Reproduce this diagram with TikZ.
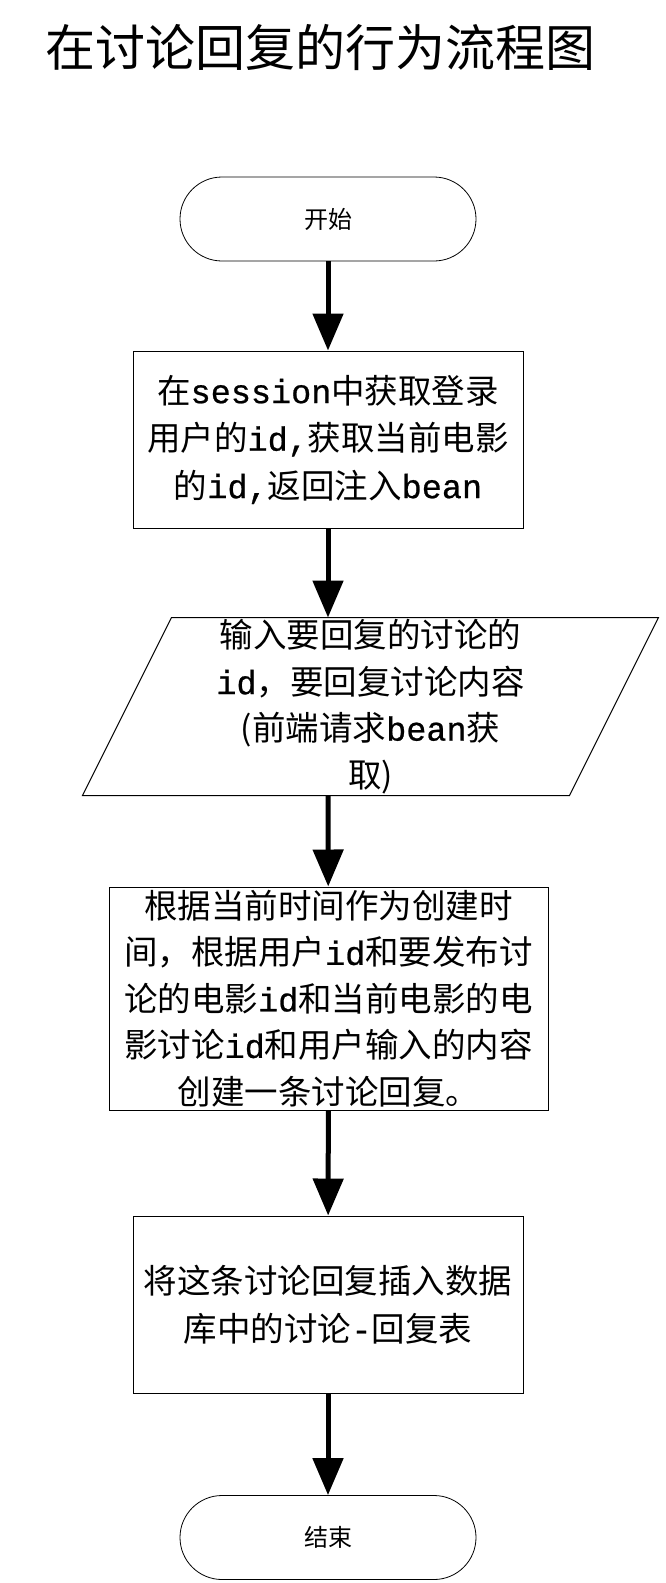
\documentclass[tikz,border=0pt]{standalone}
\usepackage{fontspec}
\setmainfont{Noto Sans CJK SC}
\setmonofont{Liberation Mono}[FakeBold=0.7]
\usetikzlibrary{arrows.meta}
\begin{document}
\begin{tikzpicture}[x=1pt,y=-1pt,
    terminal/.style={draw,line width=0.8pt,rounded corners=42pt,minimum width=296pt,minimum height=84pt,font=\fontsize{24}{28}\selectfont},
    process/.style={draw,line width=1pt,align=center,inner sep=0pt,font=\fontsize{33.5}{47.5}\selectfont},
    flow/.style={line width=5pt,-{Triangle[length=37pt,width=30pt]}}]
            \useasboundingbox (0,0) rectangle (666,1583);
            \node[anchor=west,inner sep=0pt,font=\fontsize{50}{58}\selectfont] (title) at (45,47) {在讨论回复的行为流程图};
            \node[terminal] (start) at (328,219) {开始};
            \node[process,minimum width=390pt,minimum height=177pt] (getid) at (328,439.5)
                {在\texttt{session}中获取登录\\用户的\texttt{id,}获取当前电影\\的\texttt{id,}返回注入\texttt{bean}};
            \node[process,minimum width=575pt,minimum height=177pt,draw=none,font=\fontsize{33.5}{46.5}\selectfont] (input) at (370.5,706.5)
                {输入要回复的讨论的\\\texttt{id}，要回复讨论内容\\(前端请求\texttt{bean}获\\取)};
            \draw[line width=1pt] ([xshift=89pt]input.north west) -- (input.north east)
                -- ([xshift=-89pt]input.south east) -- (input.south west) -- cycle;
            \node[process,minimum width=439pt,minimum height=223pt,font=\fontsize{33.5}{46.5}\selectfont] (create) at (328.5,998.5)
                {根据当前时间作为创建时\\间，根据用户\texttt{id}和要发布讨\\论的电影\texttt{id}和当前电影的电\\影讨论\texttt{id}和用户输入的内容\\创建一条讨论回复。};
            \node[process,minimum width=390pt,minimum height=177pt] (insert) at (328,1304.5)
                {将这条讨论回复插入数据\\库中的讨论\texttt{-}回复表};
            \node[terminal] (end) at (328,1537.5) {结束};
            \draw[flow] (start) -- (getid);
            \draw[flow] (getid) -- (getid |- input.north);
            \draw[flow] (getid |- input.south) -- (create);
            \draw[flow] (create) -- (insert);
            \draw[flow] (insert) -- (end);
        \end{tikzpicture}
\end{document}
